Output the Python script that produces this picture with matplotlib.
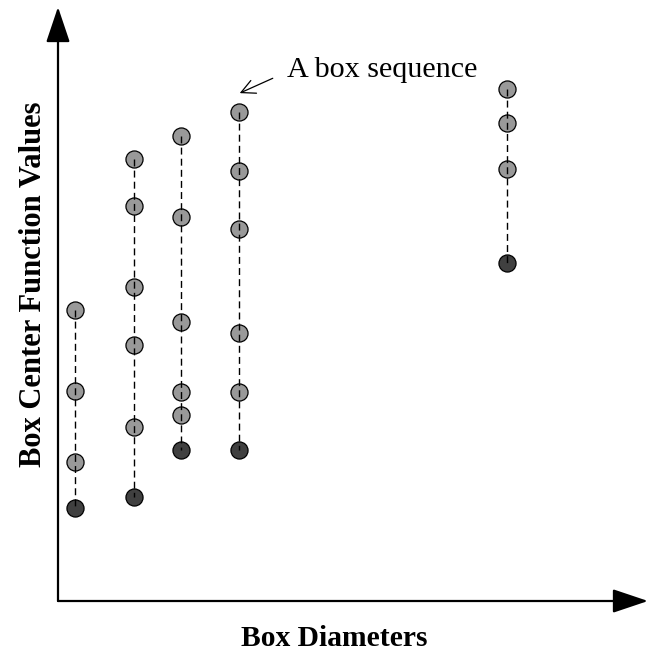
import matplotlib
matplotlib.use("Agg")
import matplotlib.pyplot as plt

# Box sequences: x = box diameter, y = box center function values
diameters = [0.29, 1.29, 2.08, 3.07, 7.61]
sequences = [
    [4.90, 3.54, 2.34, 1.57],
    [7.44, 6.65, 5.29, 4.31, 2.93, 1.75],
    [7.83, 6.46, 4.70, 3.52, 3.13, 2.54],
    [8.23, 7.24, 6.26, 4.51, 3.52, 2.54],
    [8.62, 8.05, 7.27, 5.69],
]
annot_text = "A box sequence"
xlabel = "Box Diameters"
ylabel = "Box Center Function Values"

light = "#999999"
dark = "#404040"

fig = plt.figure(figsize=(6.46, 6.5), dpi=100)
W, H = 646, 650
ax = fig.add_axes([58 / W, (H - 601) / H, 590 / W, 594 / H])
ax.set_xlim(0, 10)
ax.set_ylim(0, 10)
for s in ax.spines.values():
    s.set_visible(False)
ax.set_xticks([])
ax.set_yticks([])
ax.patch.set_alpha(0)

for x, ys in zip(diameters, sequences):
    lo = min(ys)
    for y in ys:
        ax.plot([x], [y], marker="o", ms=12.3, mfc=(dark if y == lo else light),
                mec="black", mew=0.9, ls="none", zorder=2, clip_on=False)
    ax.plot([x] * len(ys), ys, color="black", lw=1.0, ls=(0, (5, 3)),
            zorder=3, clip_on=False)

# axis arrows
arrow_kw = dict(arrowstyle="-|>,head_length=1.1,head_width=0.37", color="black",
                lw=1.6, shrinkA=0, shrinkB=0, mutation_scale=20)
ax.annotate("", xy=(0, 1), xytext=(0, 0), xycoords="axes fraction",
            textcoords="axes fraction", arrowprops=arrow_kw, annotation_clip=False)
ax.annotate("", xy=(1, 0), xytext=(0, 0), xycoords="axes fraction",
            textcoords="axes fraction", arrowprops=arrow_kw, annotation_clip=False)

serif = ["Liberation Serif", "DejaVu Serif"]

# annotation
ax.text(3.88, 8.82, annot_text, fontsize=21.7, family=serif, ha="left", va="baseline")
ax.annotate("", xy=(3.08, 8.55), xytext=(3.64, 8.80),
            arrowprops=dict(arrowstyle="->,head_length=0.5,head_width=0.25",
                            color="black", lw=0.9, shrinkA=0, shrinkB=0,
                            mutation_scale=20))

ax.set_xlabel(xlabel, fontsize=21.3, family=serif, fontweight="bold")
ax.xaxis.label.set_va("baseline")
ax.xaxis.set_label_coords((334 - 58) / 590, (601 - 645.5) / 594)
ax.set_ylabel(ylabel, fontsize=22, family=serif, fontweight="bold")
ax.yaxis.label.set_va("baseline")
ax.yaxis.set_label_coords((41 - 58) / 590, (601 - 284) / 594)

fig.savefig("out.png", dpi=100)
